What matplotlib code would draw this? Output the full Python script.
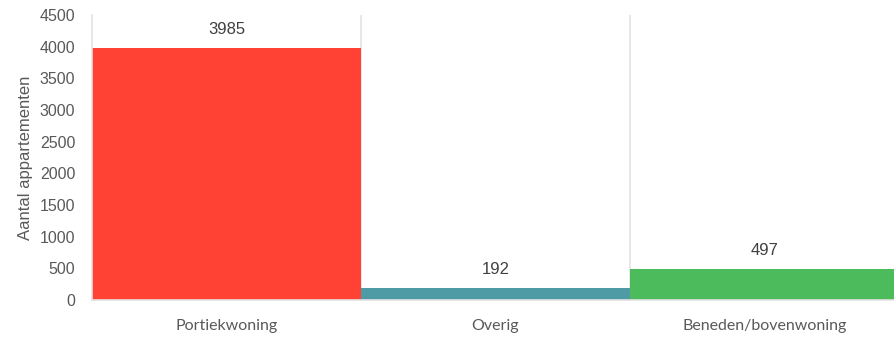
import matplotlib
matplotlib.use("Agg")
import matplotlib.pyplot as plt
import numpy as np

categories = ["Portiekwoning", "Overig", "Beneden/bovenwoning"]
values = [3985, 192, 497]
colors = ["#FF4233", "#4E9BA5", "#4BBB5B"]
yticks = [0, 500, 1000, 1500, 2000, 2500, 3000, 3500, 4000, 4500]

fig = plt.figure(figsize=(8.95, 3.37), dpi=100)
ax = fig.add_axes([92 / 895, 37 / 337, 807 / 895, 285 / 337])

x = np.arange(len(categories))
bars = ax.bar(x, values, width=1.0, color=colors, zorder=2)

for b, v in zip(bars, values):
    ax.text(b.get_x() + b.get_width() / 2, v + 170, str(v), ha="center", va="bottom",
            fontsize=12, color="#404040", family="Liberation Sans")

ax.set_xlim(-0.5, len(categories) - 0.5)
ax.set_ylim(0, 4500)
ax.set_yticks(yticks)
ax.set_yticklabels([str(t) for t in yticks], fontsize=11.5, color="#595959", family="Liberation Sans")
ax.set_xticks(x)
ax.set_xticklabels(categories, fontsize=11.5, color="#595959", family="Lato")
ax.set_xticks(np.arange(0.5, len(categories) - 1, 1.0), minor=True)
ax.grid(axis="x", which="minor", color="#e3e3e3", linewidth=1.2, zorder=0)
ax.tick_params(axis="both", which="both", length=0)
ax.tick_params(axis="x", pad=14)
ax.tick_params(axis="y", pad=12)

ax.set_ylabel("Aantal appartementen", fontsize=12, color="#595959", family="Liberation Sans", labelpad=5)

for s in ["top", "right"]:
    ax.spines[s].set_visible(False)
ax.spines["left"].set_color("#e3e3e3")
ax.spines["left"].set_linewidth(1.2)
ax.spines["bottom"].set_color("#e3e3e3")
ax.spines["bottom"].set_linewidth(1.2)

fig.savefig("out.png", dpi=100)
